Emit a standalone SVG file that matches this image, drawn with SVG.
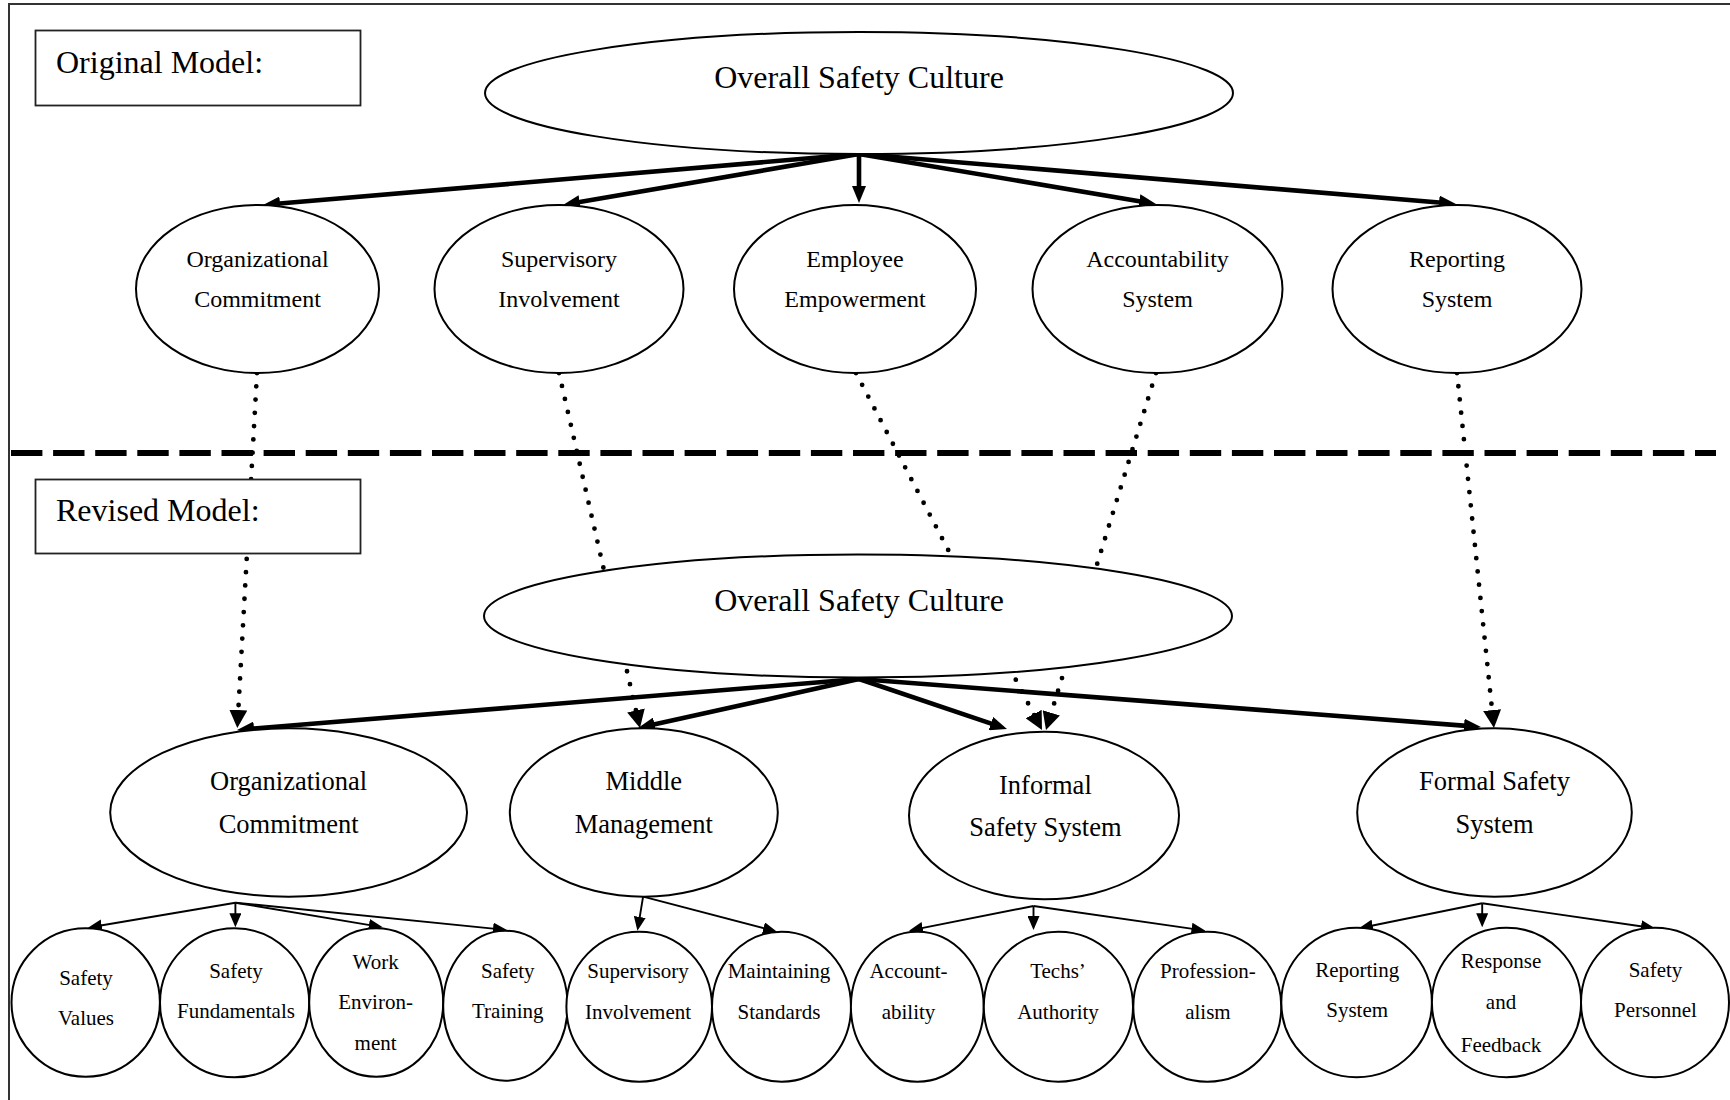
<svg xmlns="http://www.w3.org/2000/svg" width="1730" height="1100" viewBox="0 0 1730 1100">
<style>
text{font-family:"Liberation Serif","Times New Roman",serif;fill:#000;text-anchor:middle}
.lbl{font-size:32px;text-anchor:start}
.big{font-size:32px}
.row{font-size:24px}
.mid{font-size:26.5px}
.leaf{font-size:21px}
.node{fill:#fff;stroke:#000;stroke-width:2}
.box{fill:#fff;stroke:#222;stroke-width:1.8}
.thick{fill:none;stroke:#000;stroke-width:4.6;marker-end:url(#ahThick)}
.thin{fill:none;stroke:#000;stroke-width:1.9;marker-end:url(#ahThin)}
.dot{fill:none;stroke:#000;stroke-width:4.8;stroke-linecap:round;stroke-dasharray:0 13.3}
.dotarrow{marker-end:url(#ahDot)}
</style>
<defs>
<marker id="ahThick" markerUnits="userSpaceOnUse" viewBox="0 0 17 14" markerWidth="17" markerHeight="14" refX="9" refY="7" orient="auto"><path d="M0,0 L17,7 L0,14 z" fill="#000"/></marker>
<marker id="ahThin" markerUnits="userSpaceOnUse" viewBox="0 0 14 12" markerWidth="14" markerHeight="12" refX="10" refY="6" orient="auto"><path d="M0,0 L14,6 L0,12 z" fill="#000"/></marker>
<marker id="ahDot" markerUnits="userSpaceOnUse" viewBox="0 0 18 18" markerWidth="18" markerHeight="18" refX="2" refY="9" orient="auto"><path d="M0,0 L18,9 L0,18 z" fill="#000"/></marker>
</defs>
<rect x="9" y="4" width="1740" height="1120" fill="#fff" stroke="#333" stroke-width="2"/>
<line id="separator" x1="11" y1="453" x2="1716" y2="453" stroke="#000" stroke-width="6" stroke-dasharray="31.4 10.7"/>
<g id="connectors">
<path class="dot dotarrow" d="M257,373 L238.2,712"/>
<path class="dot dotarrow" d="M559,373 L636.4,712.4"/>
<path class="dot dotarrow" d="M856,373 L1034.6,715.8"/>
<path class="dot dotarrow" d="M1156,373 L1050.7,714.7"/>
<path class="dot dotarrow" d="M1457,373 L1492.3,712.1"/>
<path class="thick" d="M859,154 L271,204.3"/>
<path class="thick" d="M859,154 L570.9,203.6"/>
<path class="thick" d="M859,154 L859,195"/>
<path class="thick" d="M859,154 L1148.1,202.7"/>
<path class="thick" d="M859,154 L1448,203.3"/>
<path class="thick" d="M859,679 L245,729.3"/>
<path class="thick" d="M859,679 L645.8,726.3"/>
<path class="thick" d="M859,679 L999.4,726.4"/>
<path class="thick" d="M859,679 L1473,726.4"/>
<path class="thin" d="M235.4,902.7 L91.9,927"/>
<path class="thin" d="M235.4,902.7 L235.4,923.3"/>
<path class="thin" d="M235.4,902.7 L378.8,926.6"/>
<path class="thin" d="M235.4,902.7 L503,929.6"/>
<path class="thin" d="M643.1,896.7 L638.1,926.8"/>
<path class="thin" d="M643.1,896.7 L773.1,930.7"/>
<path class="thin" d="M1033.5,906 L912.9,929.9"/>
<path class="thin" d="M1033.5,906 L1033.5,926"/>
<path class="thin" d="M1033.5,906 L1201.5,930.1"/>
<path class="thin" d="M1482.2,903.3 L1362.9,927.5"/>
<path class="thin" d="M1482.2,903.3 L1482.2,923.3"/>
<path class="thin" d="M1482.2,903.3 L1651,927.7"/>
</g>
<g id="label-original"><rect class="box" x="35.5" y="30.5" width="325" height="75"/><text class="lbl" x="56" y="73">Original Model:</text></g>
<g id="label-revised"><rect class="box" x="35.5" y="479.5" width="325" height="74"/><text class="lbl" x="56" y="521">Revised Model:</text></g>
<g id="orig-overall"><ellipse class="node" cx="859" cy="93" rx="374" ry="61"/><text class="big" x="859" y="88">Overall Safety Culture</text></g>
<g id="orig-org"><ellipse class="node" cx="257.5" cy="289" rx="121.5" ry="84"/><text class="row" x="257.5" y="267">Organizational</text><text class="row" x="257.5" y="307">Commitment</text></g>
<g id="orig-sup"><ellipse class="node" cx="559" cy="289" rx="124.5" ry="84"/><text class="row" x="559" y="267">Supervisory</text><text class="row" x="559" y="307">Involvement</text></g>
<g id="orig-emp"><ellipse class="node" cx="855" cy="289" rx="121" ry="84"/><text class="row" x="855" y="267">Employee</text><text class="row" x="855" y="307">Empowerment</text></g>
<g id="orig-acc"><ellipse class="node" cx="1157.5" cy="289" rx="125" ry="84"/><text class="row" x="1157.5" y="267">Accountability</text><text class="row" x="1157.5" y="307">System</text></g>
<g id="orig-rep"><ellipse class="node" cx="1457" cy="289" rx="124.5" ry="84"/><text class="row" x="1457" y="267">Reporting</text><text class="row" x="1457" y="307">System</text></g>
<g id="rev-overall"><ellipse class="node" cx="858" cy="616" rx="374" ry="61.5"/><text class="big" x="859" y="611">Overall Safety Culture</text></g>
<g id="rev-org"><ellipse class="node" cx="288.6" cy="812.5" rx="178.4" ry="84.2"/><text class="mid" x="288.6" y="790">Organizational</text><text class="mid" x="288.6" y="832.7">Commitment</text></g>
<g id="rev-mid"><ellipse class="node" cx="643.8" cy="812.5" rx="134" ry="84.2"/><text class="mid" x="643.8" y="790">Middle</text><text class="mid" x="643.8" y="832.7">Management</text></g>
<g id="rev-inf"><ellipse class="node" cx="1044" cy="815.5" rx="135" ry="83.8"/><text class="mid" x="1045.4" y="794">Informal</text><text class="mid" x="1045.4" y="835.7">Safety System</text></g>
<g id="rev-for"><ellipse class="node" cx="1494.5" cy="812.5" rx="137.3" ry="84.2"/><text class="mid" x="1494.5" y="790">Formal Safety</text><text class="mid" x="1494.5" y="832.7">System</text></g>
<g id="leaf-values"><ellipse class="node" cx="85.7" cy="1002.5" rx="74.2" ry="74.2"/><text class="leaf" x="86" y="985">Safety</text><text class="leaf" x="86" y="1025">Values</text></g>
<g id="leaf-fund"><ellipse class="node" cx="234.6" cy="1002.8" rx="74.6" ry="74.5"/><text class="leaf" x="236" y="978.3">Safety</text><text class="leaf" x="236" y="1018.3">Fundamentals</text></g>
<g id="leaf-work"><ellipse class="node" cx="376.2" cy="1002.5" rx="67" ry="74.2"/><text class="leaf" x="375.6" y="969.3">Work</text><text class="leaf" x="375.6" y="1009.3">Environ-</text><text class="leaf" x="375.6" y="1050">ment</text></g>
<g id="leaf-train"><ellipse class="node" cx="505.4" cy="1005.7" rx="62.2" ry="75"/><text class="leaf" x="507.8" y="978.3">Safety</text><text class="leaf" x="507.8" y="1018.3">Training</text></g>
<g id="leaf-sup"><ellipse class="node" cx="639.2" cy="1006.7" rx="72.8" ry="75"/><text class="leaf" x="638" y="978.3">Supervisory</text><text class="leaf" x="638" y="1019.3">Involvement</text></g>
<g id="leaf-maint"><ellipse class="node" cx="781.5" cy="1006.7" rx="69.5" ry="75"/><text class="leaf" x="779" y="978.3">Maintaining</text><text class="leaf" x="779" y="1019.3">Standards</text></g>
<g id="leaf-acc"><ellipse class="node" cx="917.3" cy="1006.7" rx="66.4" ry="75"/><text class="leaf" x="908.5" y="978.3">Account-</text><text class="leaf" x="908.5" y="1019.3">ability</text></g>
<g id="leaf-techs"><ellipse class="node" cx="1058.4" cy="1006.7" rx="74.6" ry="75"/><text class="leaf" x="1058" y="978.3">Techs’</text><text class="leaf" x="1058" y="1019.3">Authority</text></g>
<g id="leaf-prof"><ellipse class="node" cx="1207.3" cy="1006.7" rx="74" ry="75"/><text class="leaf" x="1207.9" y="978.3">Profession-</text><text class="leaf" x="1207.9" y="1019.3">alism</text></g>
<g id="leaf-rep"><ellipse class="node" cx="1356.6" cy="1002.5" rx="75.3" ry="74.8"/><text class="leaf" x="1357.2" y="976.7">Reporting</text><text class="leaf" x="1357.2" y="1016.7">System</text></g>
<g id="leaf-resp"><ellipse class="node" cx="1506.5" cy="1002.5" rx="74.6" ry="74.8"/><text class="leaf" x="1501" y="968.3">Response</text><text class="leaf" x="1501" y="1009.3">and</text><text class="leaf" x="1501" y="1051.7">Feedback</text></g>
<g id="leaf-pers"><ellipse class="node" cx="1655" cy="1002.5" rx="74" ry="74.8"/><text class="leaf" x="1655.5" y="976.7">Safety</text><text class="leaf" x="1655.5" y="1016.7">Personnel</text></g>
</svg>
